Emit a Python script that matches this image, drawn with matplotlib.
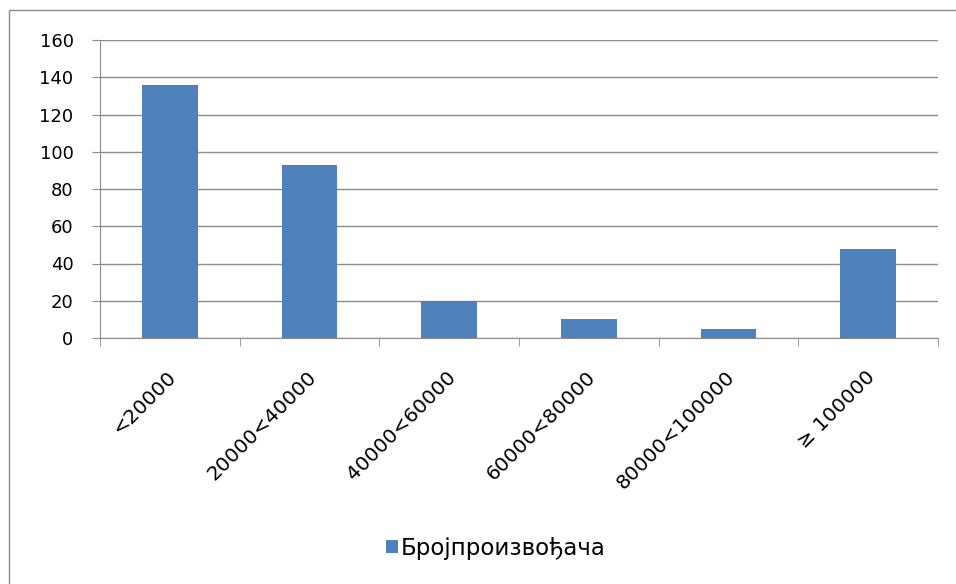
import matplotlib.pyplot as plt
from matplotlib.patches import Rectangle
from matplotlib.transforms import ScaledTranslation

categories = ['<20000', '20000<40000', '40000<60000', '60000<80000', '80000<100000', '≥ 100000']
values = [136, 93, 20, 10, 5, 48]
series_name = 'Бројпроизвођача'

bar_color = '#4f81bd'
grid_color = '#8c8c8c'

fig = plt.figure(figsize=(9.56, 5.84), dpi=100)
fig.patch.set_facecolor('white')

# outer chart frame (like the Excel chart area border)
fig.patches.append(Rectangle((9 / 956, -0.01), 1.0, 1 - 10 / 584 + 0.01,
                             transform=fig.transFigure, fill=False,
                             edgecolor=grid_color, linewidth=1.0))

# plot area: x 100..938, y 40..338 (pixels from top)
ax = fig.add_axes([100 / 956, 1 - 338 / 584, 838 / 956, 298 / 584])

x = list(range(len(categories)))
ax.bar(x, values, width=0.4, color=bar_color, label=series_name, zorder=3)

ax.set_xlim(-0.5, len(categories) - 0.5)
ax.set_ylim(0, 160)
ax.set_yticks(range(0, 161, 20))
ax.tick_params(axis='y', labelsize=13, length=6, color=grid_color, pad=13,
               direction='out')
ax.grid(axis='y', color=grid_color, linewidth=1.0, zorder=0)

# category labels rotated, boundary ticks below axis
ax.set_xticks(x)
ax.set_xticklabels(categories, rotation=45, ha='right', rotation_mode='anchor',
                   fontsize=14.5)
ax.tick_params(axis='x', length=0, pad=21)
shift = ScaledTranslation(-3 / 100, 0, fig.dpi_scale_trans)
for lbl in ax.get_xticklabels():
    lbl.set_transform(lbl.get_transform() + shift)
ax.set_xticks([i - 0.5 for i in range(len(categories) + 1)], minor=True)
ax.tick_params(axis='x', which='minor', length=6, color=grid_color,
               direction='out')

for side in ['top', 'right']:
    ax.spines[side].set_visible(False)
ax.spines['left'].set_color(grid_color)
ax.spines['bottom'].set_color(grid_color)

ax.legend(loc='center', bbox_to_anchor=(496 / 956, 1 - 548 / 584),
          bbox_transform=fig.transFigure, frameon=False, fontsize=16.5,
          handlelength=0.52, handleheight=0.52, handletextpad=0.15)

fig.savefig('out.png', dpi=100)
